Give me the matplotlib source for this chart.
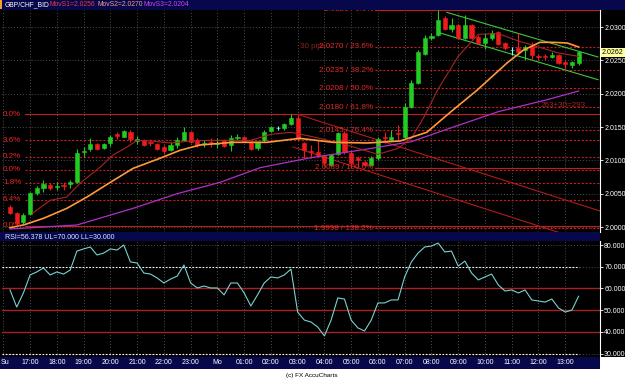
import numpy as np
import matplotlib.pyplot as plt
from matplotlib.patches import Rectangle
import matplotlib.transforms as mtransforms

plt.rcParams['font.family'] = ['Liberation Sans', 'DejaVu Sans']

# GBP/CHF 15 min candles, Sun 16:15 .. Mon 13:30
opens = [2.0030, 2.0021, 2.0008, 2.0020, 2.0051, 2.0058, 2.0063, 2.0060, 2.0063, 2.0064,
         2.0067, 2.0112, 2.0117, 2.0124, 2.0118, 2.0126, 2.0139, 2.0135, 2.0142, 2.0129,
         2.0130, 2.0127, 2.0124, 2.0120, 2.0115, 2.0123, 2.0130, 2.0142, 2.0130, 2.0124,
         2.0127, 2.0124, 2.0130, 2.0123, 2.0133, 2.0135, 2.0127, 2.0118, 2.0130, 2.0144,
         2.0148, 2.0148, 2.0154, 2.0163, 2.0126, 2.0114, 2.0112, 2.0106, 2.0093, 2.0109,
         2.0141, 2.0111, 2.0103, 2.0097, 2.0093, 2.0103, 2.0135, 2.0130, 2.0141, 2.0135,
         2.0180, 2.0216, 2.0259, 2.0283, 2.0288, 2.0313, 2.0297, 2.0303, 2.0283, 2.0303,
         2.0285, 2.0276, 2.0283, 2.0292, 2.0276, 2.0265, 2.0268, 2.0265, 2.0271, 2.0256,
         2.0256, 2.0255, 2.0258, 2.0247, 2.0243, 2.0246]
highs = [2.0033, 2.0022, 2.0021, 2.0052, 2.0061, 2.0070, 2.0066, 2.0067, 2.0067, 2.0070,
         2.0117, 2.0120, 2.0133, 2.0126, 2.0126, 2.0138, 2.0142, 2.0145, 2.0145, 2.0136,
         2.0132, 2.0132, 2.0126, 2.0123, 2.0127, 2.0135, 2.0150, 2.0144, 2.0133, 2.0130,
         2.0133, 2.0133, 2.0132, 2.0138, 2.0139, 2.0136, 2.0129, 2.0129, 2.0145, 2.0151,
         2.0151, 2.0156, 2.0169, 2.0168, 2.0127, 2.0123, 2.0130, 2.0108, 2.0109, 2.0142,
         2.0144, 2.0114, 2.0106, 2.0100, 2.0106, 2.0135, 2.0142, 2.0145, 2.0153, 2.0186,
         2.0220, 2.0265, 2.0288, 2.0291, 2.0326, 2.0316, 2.0313, 2.0304, 2.0318, 2.0304,
         2.0288, 2.0291, 2.0295, 2.0294, 2.0277, 2.0270, 2.0291, 2.0273, 2.0277, 2.0259,
         2.0259, 2.0262, 2.0259, 2.0250, 2.0249, 2.0264]
lows = [2.0020, 2.0002, 2.0005, 2.0018, 2.0048, 2.0052, 2.0055, 2.0055, 2.0055, 2.0058,
        2.0066, 2.0105, 2.0114, 2.0115, 2.0117, 2.0121, 2.0132, 2.0135, 2.0127, 2.0124,
        2.0121, 2.0121, 2.0115, 2.0109, 2.0114, 2.0118, 2.0129, 2.0126, 2.0120, 2.0120,
        2.0120, 2.0118, 2.0120, 2.0114, 2.0130, 2.0127, 2.0115, 2.0115, 2.0127, 2.0142,
        2.0145, 2.0145, 2.0153, 2.0130, 2.0103, 2.0103, 2.0106, 2.0091, 2.0091, 2.0108,
        2.0109, 2.0089, 2.0090, 2.0091, 2.0091, 2.0100, 2.0126, 2.0129, 2.0130, 2.0133,
        2.0178, 2.0214, 2.0258, 2.0280, 2.0286, 2.0295, 2.0292, 2.0282, 2.0282, 2.0282,
        2.0274, 2.0267, 2.0280, 2.0273, 2.0265, 2.0258, 2.0261, 2.0250, 2.0250, 2.0250,
        2.0250, 2.0253, 2.0244, 2.0235, 2.0238, 2.0243]
closes = [2.0021, 2.0006, 2.0018, 2.0051, 2.0058, 2.0064, 2.0058, 2.0061, 2.0061, 2.0067,
          2.0111, 2.0114, 2.0124, 2.0117, 2.0124, 2.0135, 2.0136, 2.0144, 2.0132, 2.0132,
          2.0123, 2.0126, 2.0117, 2.0114, 2.0123, 2.0130, 2.0142, 2.0127, 2.0123, 2.0126,
          2.0126, 2.0126, 2.0121, 2.0133, 2.0135, 2.0129, 2.0117, 2.0127, 2.0142, 2.0150,
          2.0148, 2.0154, 2.0163, 2.0132, 2.0115, 2.0112, 2.0108, 2.0096, 2.0108, 2.0141,
          2.0112, 2.0096, 2.0100, 2.0093, 2.0103, 2.0132, 2.0133, 2.0135, 2.0139, 2.0180,
          2.0216, 2.0262, 2.0283, 2.0286, 2.0310, 2.0297, 2.0303, 2.0283, 2.0303, 2.0283,
          2.0276, 2.0283, 2.0291, 2.0274, 2.0268, 2.0265, 2.0262, 2.0270, 2.0258, 2.0255,
          2.0255, 2.0258, 2.0246, 2.0244, 2.0247, 2.0262]

# moving averages (bar number, value)
ma1_bar = [3.4, 6, 8.5, 10.5, 12, 13.5, 15.4, 17.5, 19, 21, 24, 27, 30, 33, 36, 39, 42, 45,
           50, 55, 58, 60, 62, 64, 67, 70, 73, 76, 79, 82, 85]
ma1_val = [2.0021, 2.0040, 2.0045, 2.0066, 2.0078, 2.0090, 2.0108, 2.0120, 2.0130, 2.0129,
           2.0126, 2.0129, 2.0130, 2.0130, 2.0130, 2.0139, 2.0142, 2.0136, 2.0124, 2.0109,
           2.0118, 2.0133, 2.0167, 2.0207, 2.0256, 2.0289, 2.0290, 2.0279, 2.0270, 2.0261,
           2.0256]
ma2_bar = [0, 2, 5, 8.5, 11.5, 15, 18.4, 22.4, 25.4, 28.4, 33.3, 38.4, 43.3, 48.3, 53.4,
           58.3, 62.3, 65.8, 69.8, 74.3, 76.7, 79.2, 81.2, 83.3, 85]
ma2_val = [1.9999, 2.0003, 2.0013, 2.0028, 2.0045, 2.0067, 2.0088, 2.0103, 2.0115, 2.0123,
           2.0127, 2.0127, 2.0133, 2.0127, 2.0126, 2.0129, 2.0142, 2.0172, 2.0205, 2.0246,
           2.0265, 2.0277, 2.0277, 2.0276, 2.0270]
ma3_bar = [0, 10, 18.4, 25, 31.4, 37.4, 45, 53.4, 60, 66, 73, 80.3, 85]
ma3_val = [1.9997, 2.0003, 2.0028, 2.0050, 2.0067, 2.0089, 2.0104, 2.0117, 2.0128, 2.0149,
           2.0173, 2.0191, 2.0204]

rsi = [59.3, 51.4, 57.9, 66.2, 67.6, 69.4, 66.2, 67.6, 66.6, 68.5,
       77.2, 78.2, 79.1, 75.4, 76.3, 78.2, 77.7, 80.0, 72.2, 71.7,
       67.1, 66.6, 64.8, 62.5, 64.3, 65.7, 70.8, 62.5, 60.2, 61.1,
       60.2, 60.2, 57.0, 62.5, 62.5, 57.9, 51.9, 57.0, 62.5, 65.3,
       64.8, 66.2, 68.9, 49.1, 45.4, 44.5, 42.2, 38.1, 45.4, 55.6,
       55.1, 45.4, 41.8, 40.4, 45.4, 53.3, 53.3, 54.7, 54.7, 65.3,
       72.2, 76.3, 79.1, 79.5, 80.9, 76.8, 77.2, 70.3, 72.6, 67.1,
       63.9, 65.3, 66.6, 61.6, 58.8, 59.3, 57.9, 59.3, 54.7, 54.2,
       53.7, 55.1, 51.0, 49.1, 50.0, 56.4]

time_labels = ['Su', '17:00', '18:00', '19:00', '20:00', '21:00', '22:00', '23:00', 'Mo',
               '01:00', '02:00', '03:00', '04:00', '05:00', '06:00', '07:00', '08:00',
               '09:00', '10:00', '11:00', '12:00', '13:00']
price_ticks = [2.0000, 2.0050, 2.0100, 2.0150, 2.0200, 2.0250, 2.0300]
rsi_ticks = [30, 40, 50, 60, 70, 80]

# fibonacci sets (left set: labels as they show, cut at the chart edge)
fib_a_levels = [2.0169, 2.0130, 2.0105, 2.0086, 2.0066, 2.0041, 2.0002]
fib_a_labels = ['0.0%', '3.6%', '0.2%', '0.0%', '1.8%', '6.4%', '0.0%']
fib_b_levels = [2.0326, 2.0270, 2.0235, 2.0208, 2.0180, 2.0145, 2.0089, 1.9998]
fib_b_labels = ['2.0326 / 0.0%', '2.0270 / 23.6%', '2.0235 / 38.2%', '2.0208 / 50.0%',
                '2.0180 / 61.8%', '2.0145 / 76.4%', '2.0089 / 100.0%', '1.9998 / 138.2%']

chan_up = ([65.3, 87.9], [2.0322, 2.0255])
chan_lo = ([64.3, 87.9], [2.0291, 2.0221])
fan1 = ([43, 88.2], [2.0169, 2.0024])
fan2 = ([42.3, 88.2], [2.0120, 1.9972])

W, H = 625, 380
def box(x0, y0, x1, y1):
    return [x0 / W, 1 - y1 / H, (x1 - x0) / W, (y1 - y0) / H]

navy = '#07074c'
fig = plt.figure(figsize=(6.25, 3.8), dpi=100, facecolor='white')
for b, c in [(box(0, 0, 625, 357), 'black'), (box(0, 0, 625, 10), navy),
             (box(0, 232, 600, 241), navy), (box(0, 357, 600, 369), navy)]:
    fig.patches.append(Rectangle((b[0], b[1]), b[2], b[3], transform=fig.transFigure,
                                 facecolor=c, edgecolor='none', zorder=-10))
fig.patches.append(Rectangle((0, 1 - 9 / H), 2 / W, 9 / H, transform=fig.transFigure,
                             facecolor='#f0a030', edgecolor='none', zorder=-9))

ax = fig.add_axes(box(2, 10, 600, 232), facecolor='black')
axr = fig.add_axes(box(2, 241, 600, 356), facecolor='black', sharex=ax)

n = len(closes)
x = np.arange(n)
tpos = np.arange(len(time_labels)) * 4 - 1
xmin, xmax = -1.2, 88.2

for a in (ax, axr):
    a.set_xlim(xmin, xmax)
    a.set_xticks(tpos)
    a.tick_params(axis='x', bottom=False, labelbottom=False)
    a.yaxis.tick_right()
    a.tick_params(axis='y', colors='white', labelsize=5, length=2, pad=1, width=0.6)
    a.grid(True, color='#6a6a6a', linestyle=(0, (1, 2.5)), linewidth=0.6)
    a.set_axisbelow(True)
    for s in ('top', 'bottom', 'left'):
        a.spines[s].set_visible(False)
    a.spines['right'].set_color('white')
    a.spines['right'].set_linewidth(0.8)

# main panel
ax.set_ylim(1.99925, 2.03255)
ax.set_yticks(price_ticks)
ax.set_yticklabels(['%.4f' % p for p in price_ticks])

red_s = '#c41c1c'
for i, (lvl, lab) in enumerate(zip(fib_a_levels, fib_a_labels)):
    solid = i == 0 or i == len(fib_a_levels) - 1
    ax.plot([2.3, xmax], [lvl, lvl], color=red_s, lw=0.8,
            ls='-' if solid else (0, (2, 1.5)), zorder=1)
    ax.text(-1.05, lvl, lab, color='#e82828', fontsize=5.8, ha='left', va='center',
            zorder=6)
ax.text(43.3, 2.0270, '30 pips', color='#8c2020', fontsize=5.8, ha='left', va='center',
        zorder=5)
for i, (lvl, lab) in enumerate(zip(fib_b_levels, fib_b_labels)):
    solid = i == 0 or i == 6
    ax.plot([54.5, xmax], [lvl, lvl], color=red_s, lw=0.8,
            ls='-' if solid else (0, (2, 1.5)), zorder=1)
    ax.text(54.3, lvl, lab, color='#e82828', fontsize=5.8, ha='right', va='center',
            clip_on=True, zorder=6)
ax.text(82.7, 2.0182, '263+30=293', color='#a02828', fontsize=5.8, ha='center',
        va='center', zorder=6)

ax.plot(*fan1, color='#b01c1c', lw=0.8, zorder=2)
ax.plot(*fan2, color='#b01c1c', lw=0.8, zorder=2)
ax.plot(*chan_up, color='#3cc83c', lw=0.8, zorder=2)
ax.plot(*chan_lo, color='#3cc83c', lw=0.8, zorder=2)

# candles
for i in range(n):
    o, h, l, c = opens[i], highs[i], lows[i], closes[i]
    if abs(c - o) < 1e-6:
        col = '#80ffff'
    elif c > o:
        col = '#22cc22'
    else:
        col = '#ee1c1c'
    ax.vlines(x[i], l, h, color=col, lw=0.8, zorder=3)
    ax.bar(x[i], max(abs(c - o), 0.00002), bottom=min(o, c), width=0.62, color=col,
           edgecolor=col, lw=0.4, zorder=3)

ax.plot(ma3_bar, ma3_val, color='#b030c8', lw=0.9, zorder=4)
ax.plot(ma1_bar, ma1_val, color='#a82424', lw=0.8, zorder=4)
ax.plot(ma2_bar, ma2_val, color='#ff9a3c', lw=1.2, zorder=4)

ax.text(1.0033, closes[-1], '%.4f' % closes[-1], transform=mtransforms.blended_transform_factory(
    ax.transAxes, ax.transData), fontsize=5, color='black', ha='left', va='center',
    bbox=dict(facecolor='#ffff99', edgecolor='none', pad=0.6), clip_on=False, zorder=7)

# RSI panel
axr.set_ylim(28.85, 81.85)
axr.set_yticks(rsi_ticks)
axr.set_yticklabels(['%.3f' % v for v in rsi_ticks])
axr.plot([xmin, n - 1], [70, 70], color='white', lw=0.8, ls=(0, (1.5, 1.5)), zorder=2)
axr.plot([xmin, n - 1], [30, 30], color='white', lw=0.8, ls=(0, (1.5, 1.5)), zorder=2)
for lvl in (60, 50, 40):
    axr.axhline(lvl, color='#a82020', lw=1.0, zorder=2)
axr.plot(x, rsi, color='#78d2d2', lw=0.8, zorder=3)

# time labels in the bottom bar
tr = mtransforms.blended_transform_factory(axr.transData, fig.transFigure)
for p, lab in zip(tpos, time_labels):
    if lab == 'Su':
        fig.text(1 / W, 1 - 363 / H, lab, color='white', fontsize=5, ha='left', va='center')
    else:
        fig.text(p, 1 - 363 / H, lab, transform=tr, color='white', fontsize=5,
                 ha='center', va='center')

# header texts
ty = 1 - 5 / H
fig.text(5 / W, ty, 'GBP/CHF_BID', color='white', fontsize=4.9, va='center')
fig.text(50 / W, ty, 'MovS1=2.0256', color='#e83c3c', fontsize=4.9, va='center')
fig.text(97 / W, ty, 'MovS2=2.0270', color='#f0a088', fontsize=4.9, va='center')
fig.text(143 / W, ty, 'MovS3=2.0204', color='#c848e8', fontsize=4.9, va='center')
fig.text(5 / W, 1 - 237 / H, 'RSI=56.378 UL=70.000 LL=30.000', color='#d8ecff',
         fontsize=5, va='center')
fig.text(312 / W, 1 - 375 / H, '(c) FX AccuCharts', color='black', fontsize=4.6,
         ha='center', va='center')

fig.savefig('out.png', dpi=100, facecolor='white')
